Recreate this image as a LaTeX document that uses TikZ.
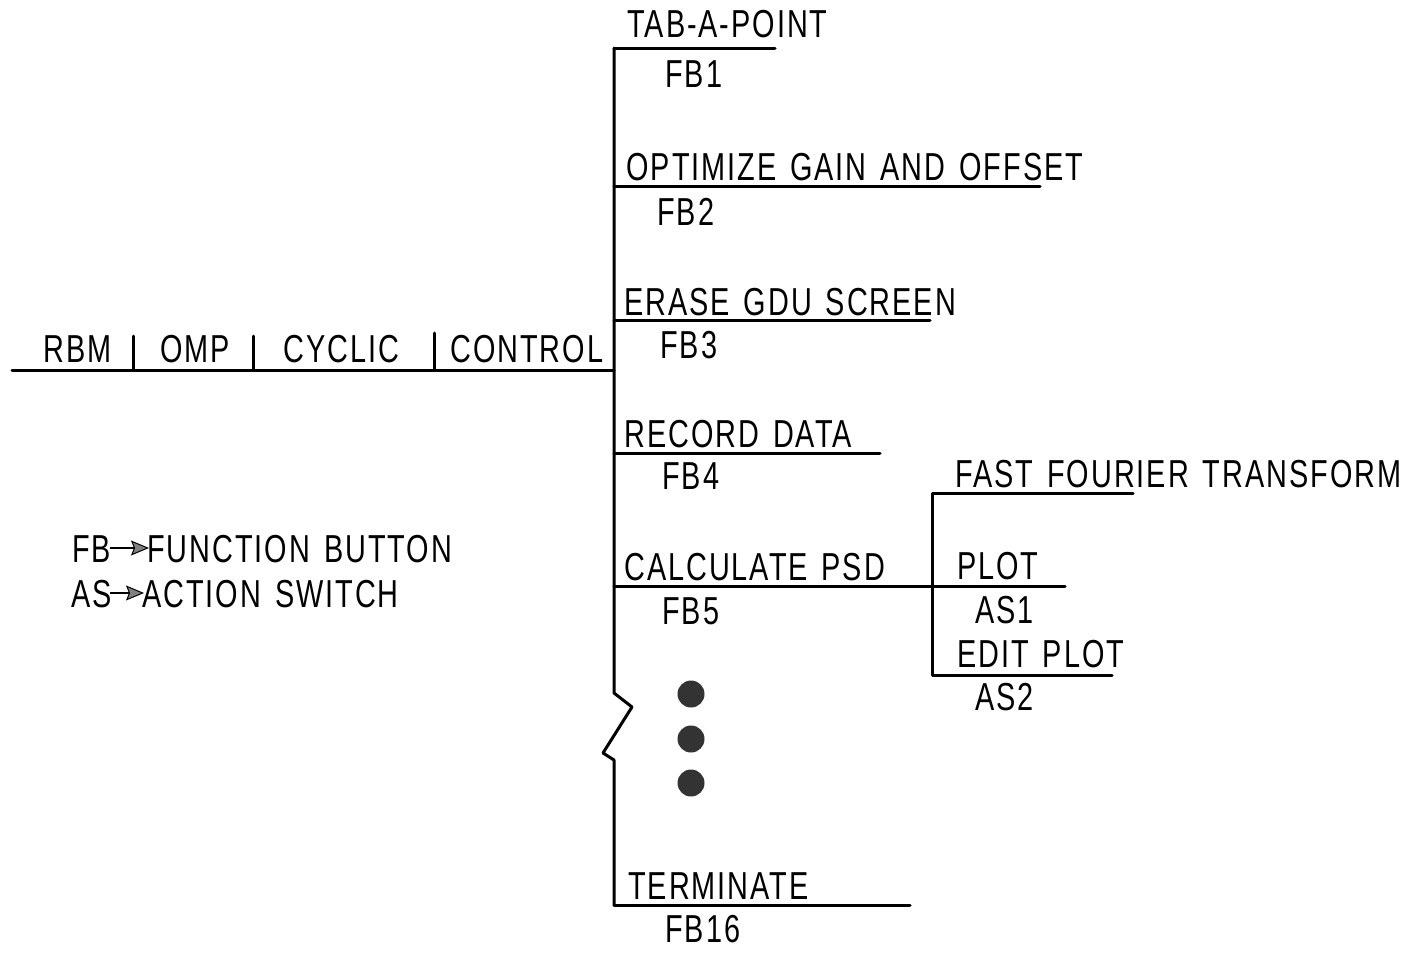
\documentclass[tikz,border=0pt]{standalone}
\usepackage{fontspec}
\setmainfont[FakeStretch=0.74,LetterSpace=5,WordSpace=1.4]{Liberation Sans}
\usetikzlibrary{arrows.meta}
\begin{document}
\begin{tikzpicture}[x=0.5pt,y=-0.5pt,
  wire/.style={line width=1.5pt, line cap=round, line join=round},
  lbl/.style={inner sep=0pt, anchor=base west, font=\fontsize{19.5}{22}\selectfont},
  dotmark/.style={circle, fill=black!80, inner sep=0pt, minimum size=13.5pt},
  legarrow/.style={line width=1.2pt, shorten <=-1pt, shorten >=-1pt,
    -{Stealth[length=9pt,width=7.5pt,inset=1.5pt,fill=black!50,line width=0.5pt]}},
]
\useasboundingbox (0,0) rectangle (1415,953);

% ---- left chain ----
\coordinate (L0) at (12,370);
\coordinate (J0) at (614,370);
\coordinate (s1) at (133,370); \coordinate (s1t) at (133,336);
\coordinate (s2) at (253,370); \coordinate (s2t) at (253,336);
\coordinate (s3) at (434,370); \coordinate (s3t) at (434,333);
\draw[wire] (L0) -- (J0);
\draw[wire] (s1) -- (s1t);
\draw[wire] (s2) -- (s2t);
\draw[wire] (s3) -- (s3t);
\node[lbl] (rbm) at (43,362) {RBM};
\node[lbl] (omp) at (160,362) {OMP};
\node[lbl] (cyc) at (283,362) {CYCLIC};
\node[lbl] (ctl) at (450,362) {CONTROL};

% ---- main trunk ----
\coordinate (J1) at (614,48);
\coordinate (J2) at (614,186);
\coordinate (J3) at (614,320);
\coordinate (J4) at (614,453);
\coordinate (J5) at (614,586);
\coordinate (B1) at (614,693);
\coordinate (B2) at (632,707);
\coordinate (B3) at (603,753);
\coordinate (B4) at (614,760);
\coordinate (J16) at (614,905);
\draw[wire] (J1) -- (B1) -- (B2) -- (B3) -- (B4) -- (J16);

% branch ends
\coordinate (E1) at (775,48);
\coordinate (E2) at (1040,186);
\coordinate (E3) at (930,320);
\coordinate (E4) at (880,453);
\coordinate (K) at (932,586);
\coordinate (E16) at (910,905);
\draw[wire] (J1) -- (E1);
\draw[wire] (J2) -- (E2);
\draw[wire] (J3) -- (E3);
\draw[wire] (J4) -- (E4);
\draw[wire] (J5) -- (K);
\draw[wire] (J16) -- (E16);

\node[lbl] (t1) at (627,38) {TAB-A-POINT};
\node[lbl] (f1) at (665,87) {FB1};
\node[lbl] (t2) at (626,180) {OPTIMIZE GAIN AND OFFSET};
\node[lbl] (f2) at (657,225) {FB2};
\node[lbl] (t3) at (624,315) {ERASE GDU SCREEN};
\node[lbl] (f3) at (660,358) {FB3};
\node[lbl] (t4) at (624,447) {RECORD DATA};
\node[lbl] (f4) at (662,489) {FB4};
\node[lbl] (t5) at (624,580) {CALCULATE PSD};
\node[lbl] (f5) at (662,624) {FB5};
\node[lbl] (t16) at (628,899) {TERMINATE};
\node[lbl] (f16) at (665,942) {FB16};

% ---- sub-branch ----
\coordinate (K1) at (932,493);
\coordinate (K3) at (932,675);
\coordinate (P1) at (1133,493);
\coordinate (P2) at (1065,586);
\coordinate (P3) at (1112,675);
\draw[wire] (P1) -- (K1) -- (K3) -- (P3);
\draw[wire] (K) -- (P2);
\node[lbl] (fft) at (955,487) {FAST FOURIER TRANSFORM};
\node[lbl] (plot) at (957,579) {PLOT};
\node[lbl] (as1) at (975,623) {AS1};
\node[lbl] (edit) at (957,667) {EDIT PLOT};
\node[lbl] (as2) at (975,710) {AS2};

% ---- continuation dots ----
\node[dotmark] (d1) at (691,694) {};
\node[dotmark] (d2) at (691,739) {};
\node[dotmark] (d3) at (691,783) {};

% ---- legend ----
\node[lbl] (fb) at (72,562) {FB};
\node[lbl] (fbt) at (147,562) {FUNCTION BUTTON};
\node[lbl] (as) at (71,607) {AS};
\node[lbl] (ast) at (142,607) {ACTION SWITCH};
\draw[legarrow] ([yshift=7pt]fb.base east) -- ([yshift=7pt]fbt.base west);
\draw[legarrow] ([yshift=7pt]as.base east) -- ([yshift=7pt]ast.base west);
\end{tikzpicture}
\end{document}
